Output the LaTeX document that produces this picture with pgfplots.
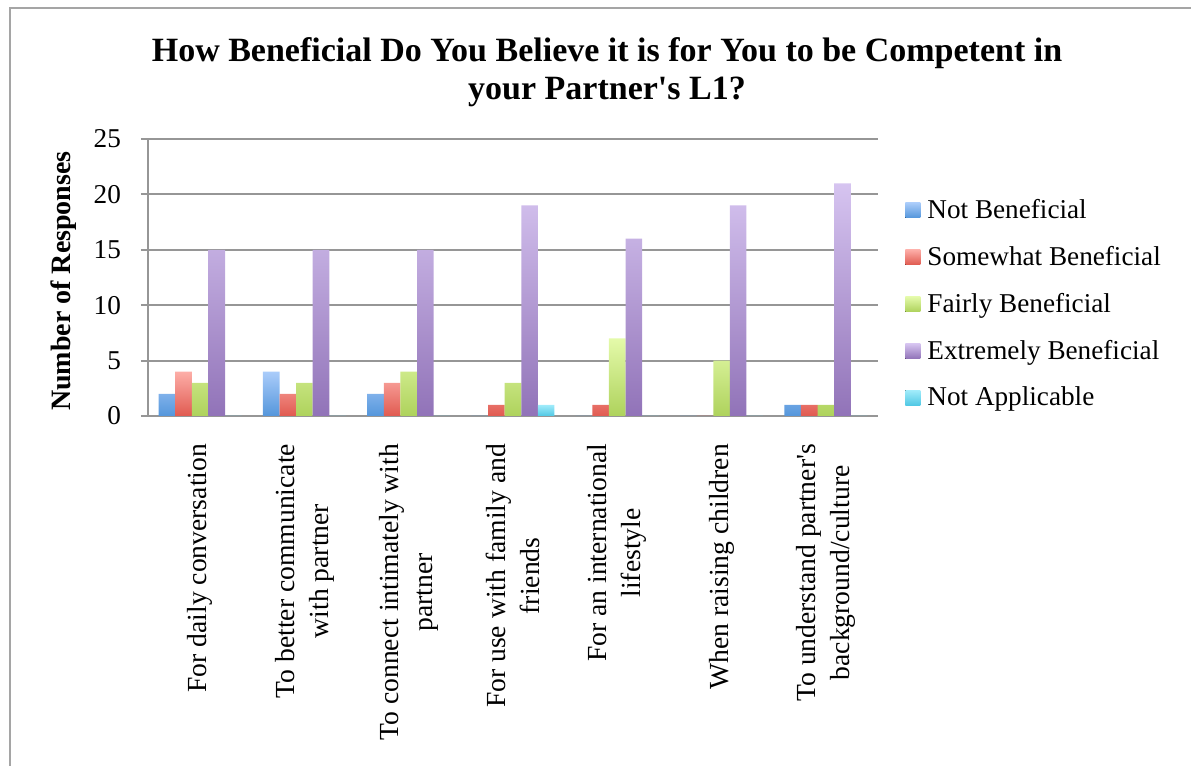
\documentclass[border=0pt]{standalone}
\usepackage{fontspec}
\setmainfont{Liberation Serif}[Ligatures=TeXOff]
\usepackage{pgfplots}
\pgfplotsset{compat=1.18}
\definecolor{bluetop}{RGB}{170,204,250}
\definecolor{bluebot}{RGB}{84,150,219}
\definecolor{redtop}{RGB}{253,174,168}
\definecolor{redbot}{RGB}{224,90,80}
\definecolor{greentop}{RGB}{228,250,170}
\definecolor{greenbot}{RGB}{174,210,92}
\definecolor{purptop}{RGB}{214,196,240}
\definecolor{purpbot}{RGB}{145,115,184}
\definecolor{cyantop}{RGB}{160,235,250}
\definecolor{cyanbot}{RGB}{80,200,228}
\definecolor{axgray}{RGB}{150,150,150}
\definecolor{framegray}{RGB}{165,165,165}
\begin{document}
\begin{tikzpicture}
\useasboundingbox (0pt,0pt) rectangle (595.5pt,383pt);
\draw[framegray, line width=1pt] (5pt,-2pt) -- (5pt,379pt) -- (600pt,379pt);
\node[font=\fontsize{17}{20}\selectfont\bfseries, anchor=base] at (303.5pt,352pt) {How Beneficial Do You Believe it is for You to be Competent in};
\node[font=\fontsize{17}{20}\selectfont\bfseries, anchor=base] at (303.5pt,333pt) {your Partner's L1?};
\begin{axis}[
  at={(74pt,175pt)}, anchor=south west,
  width=365pt, height=138.5pt, scale only axis,
  xmin=-0.5, xmax=6.5, ymin=0, ymax=25,
  ytick={0,5,...,25},
  xtick={0,...,6},
  minor xtick={-0.5,0.5,...,6.5},
  xticklabels={{For daily conversation},{To better communicate\\with partner},{To connect intimately with\\partner},{For use with family and\\friends},{For an international\\lifestyle},{When raising children},{To understand partner's\\background/culture}},
  xticklabel style={rotate=90, anchor=east, align=center, font=\fontsize{13.8}{17}\selectfont},
  xticklabel shift=7pt,
  yticklabel style={font=\fontsize{13.6}{16}\selectfont},
  yticklabel shift=6.5pt,
  /pgf/number format/assume math mode=true,
  axis lines=left, axis line style={-, axgray, line width=1pt},
  tick align=outside,
  major tick length=3.5pt, minor tick length=4pt,
  xtick style={draw=none},
  minor x tick style={axgray, line width=1pt},
  ytick style={axgray, line width=1pt},
  ymajorgrids, grid style={axgray, line width=1pt},
  ylabel={Number of Responses},
  ylabel style={at={(axis description cs:-0.116,0.487)}, rotate=0, anchor=center, font=\fontsize{14}{16}\selectfont\bfseries},
  ybar, bar width=8.3pt,
  legend style={at={(1.037,0.795)}, anchor=north west, draw=none, fill=none,
    font=\fontsize{13.6}{16}\selectfont, row sep=9.4pt, inner sep=0pt,
    nodes={inner sep=1.5pt}},
  legend cell align=left,
  legend image code/.code={\fill[#1] (0pt,-3.75pt) rectangle (7.5pt,3.75pt); \path (0pt,0pt) -- (9.5pt,0pt);},
]
\addplot[bar shift=-16.6pt, draw=none, top color=bluetop, bottom color=bluebot] coordinates {(0,2) (1,4) (2,2) (3,0) (4,0) (5,0) (6,1)};
\addplot[bar shift=-8.3pt, draw=none, top color=redtop, bottom color=redbot] coordinates {(0,4) (1,2) (2,3) (3,1) (4,1) (5,0) (6,1)};
\addplot[bar shift=0pt, draw=none, top color=greentop, bottom color=greenbot] coordinates {(0,3) (1,3) (2,4) (3,3) (4,7) (5,5) (6,1)};
\addplot[bar shift=8.3pt, draw=none, top color=purptop, bottom color=purpbot] coordinates {(0,15) (1,15) (2,15) (3,19) (4,16) (5,19) (6,21)};
\addplot[bar shift=16.6pt, draw=none, top color=cyantop, bottom color=cyanbot] coordinates {(0,0) (1,0) (2,0) (3,1) (4,0) (5,0) (6,0)};
\legend{Not Beneficial, Somewhat Beneficial, Fairly Beneficial, Extremely Beneficial, Not Applicable}
\end{axis}
\end{tikzpicture}
\end{document}
